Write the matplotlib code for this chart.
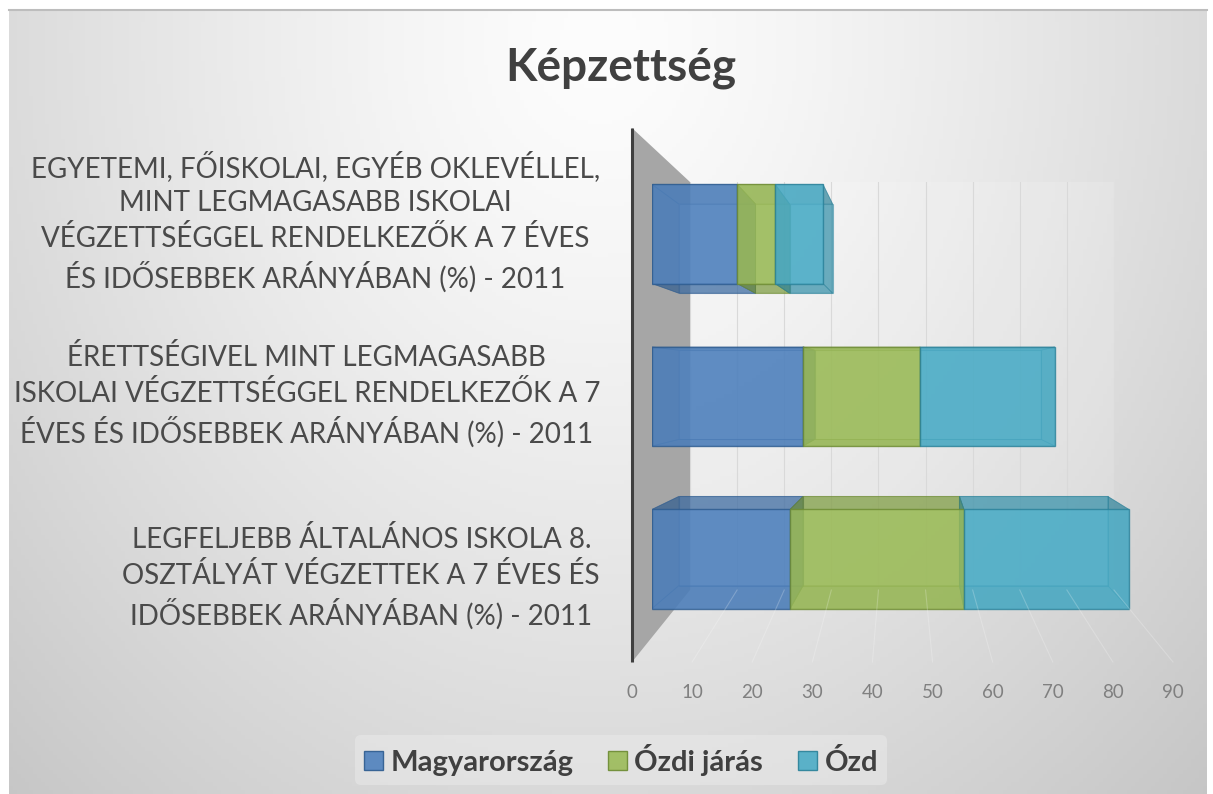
import matplotlib
matplotlib.use("Agg")
import matplotlib.pyplot as plt
import numpy as np
from matplotlib.patches import Polygon, Patch
from matplotlib.lines import Line2D

plt.rcParams["font.family"] = ["Lato", "DejaVu Sans"]

# data (bottom category first)
categories = [
    "LEGFELJEBB ÁLTALÁNOS ISKOLA 8.\nOSZTÁLYÁT VÉGZETTEK A 7 ÉVES ÉS\nIDŐSEBBEK ARÁNYÁBAN (%) - 2011",
    "ÉRETTSÉGIVEL MINT LEGMAGASABB\nISKOLAI VÉGZETTSÉGGEL RENDELKEZŐK A 7\nÉVES ÉS IDŐSEBBEK ARÁNYÁBAN (%) - 2011",
    "EGYETEMI, FŐISKOLAI, EGYÉB OKLEVÉLLEL,\nMINT LEGMAGASABB ISKOLAI\nVÉGZETTSÉGGEL RENDELKEZŐK A 7 ÉVES\nÉS IDŐSEBBEK ARÁNYÁBAN (%) - 2011",
]
series_names = ["Magyarország", "Ózdi járás", "Ózd"]
magyarorszag = [24.8, 27.1, 15.3]
ozdi_jaras = [31.2, 21.0, 6.8]
ozd = [29.6, 24.2, 8.6]
x_ticks = [0, 10, 20, 30, 40, 50, 60, 70, 80, 90]

# layout (pixels)
W, H = 1213, 794
face_colors = ["#4f81bd", "#9bbb59", "#4bacc6"]
dark_colors = ["#2d5b8f", "#6c8a32", "#2a8199"]
text_col = "#404040"
bar_h = 0.61
vp = np.array([48.0, 1.10])  # perspective point, bar data coords
depth = 0.9


def fx(x):
    return x / W


def fy(y):
    return 1 - y / H


fig = plt.figure(figsize=(W / 100, H / 100), dpi=100)
fig.patch.set_facecolor("white")

# background gradient
bg = fig.add_axes([0, 0, 1, 1])
bg.set_xlim(0, W)
bg.set_ylim(H, 0)
bg.axis("off")
gx, gy = np.meshgrid(np.linspace(9, 1207, 300), np.linspace(10, 794, 200))
r = np.sqrt(((gx - 600) / 680) ** 2 + ((gy - 40) / 820) ** 2)
v = np.clip((253 - 40 * r ** 1.3) / 255, 0, 1)
bg.imshow(np.dstack([v, v, v]), extent=(9, 1207, 794, 10), aspect="auto", zorder=0)
bg.plot([9, 1207], [10, 10], color="#bdbdbd", lw=1.5, zorder=1)

# back wall with gridlines
ax_back = fig.add_axes([fx(690), fy(590), 424 / W, 408 / H])
ax_back.set_xlim(0, 90)
ax_back.set_ylim(0, 1)
ax_back.set_xticks(x_ticks)
ax_back.set_yticks([])
ax_back.tick_params(axis="x", length=0, labelbottom=False)
ax_back.grid(axis="x", color="#d9d9d9", lw=0.8)
ax_back.patch.set_facecolor("white")
ax_back.patch.set_alpha(0.15)
for s in ax_back.spines.values():
    s.set_visible(False)

# tick label axis at the front floor edge
ax_tick = fig.add_axes([fx(632), fy(662), 541 / W, 0.0001])
ax_tick.set_xlim(0, 90)
ax_tick.set_xticks(x_ticks)
ax_tick.set_yticks([])
ax_tick.tick_params(axis="x", length=0, pad=16, labelsize=13.5, labelcolor="#808080")
ax_tick.patch.set_alpha(0)
for s in ax_tick.spines.values():
    s.set_visible(False)

# floor lines joining back wall gridlines to the front ticks
inv = fig.transFigure.inverted()
for t in x_ticks[1:]:
    p0 = inv.transform(ax_back.transData.transform((t, 0)))
    p1 = inv.transform(ax_tick.transData.transform((t, 0)))
    fig.add_artist(Line2D([p0[0], p1[0]], [p0[1], p1[1]], color="white", lw=0.8, alpha=0.22))

# side wall and axis line
bg.add_patch(Polygon([(632, 128), (690, 182), (690, 590), (632, 662)], closed=True,
                     facecolor="#a6a6a6", edgecolor="none", zorder=2))
bg.plot([632, 632], [128, 662], color="#3f3f3f", lw=2.2, zorder=3, solid_capstyle="butt")

# bars
ax = fig.add_axes([fx(652), fy(662), 548 / W, 534 / H])
ax.set_xlim(0, 548 / 5.57)
ax.set_ylim(-0.634, 2.652)
ax.axis("off")

y = np.arange(len(categories))
lefts = np.zeros(len(categories))
for j, vals in enumerate([magyarorszag, ozdi_jaras, ozd]):
    vals = np.array(vals)
    for i in range(len(categories)):
        x0, x1 = lefts[i], lefts[i] + vals[i]
        y0, y1 = y[i] - bar_h / 2, y[i] + bar_h / 2
        front = np.array([(x0, y0), (x1, y0), (x1, y1), (x0, y1)])
        back = vp + (front - vp) * depth
        ax.add_patch(Polygon(back, closed=True, facecolor=face_colors[j], alpha=0.5,
                             edgecolor=dark_colors[j], lw=0.8, zorder=1))
        for k in range(4):
            quad = [front[k], front[(k + 1) % 4], back[(k + 1) % 4], back[k]]
            ax.add_patch(Polygon(quad, closed=True, facecolor=dark_colors[j], alpha=0.45,
                                 edgecolor=dark_colors[j], lw=0.6, zorder=2))
    ax.barh(y, vals, left=lefts, height=bar_h, color=face_colors[j], alpha=0.8,
            edgecolor=dark_colors[j], linewidth=1.0, zorder=3)
    lefts += vals

# category labels
label_y = [578, 396, 222]
for lab, ly in zip(categories, label_y):
    fig.text(fx(600), fy(ly), lab, ha="right", va="center", ma="center",
             fontsize=20, color="#4a4a4a", linespacing=1.38)

fig.text(fx(621), fy(68), "Képzettség", ha="center", va="center",
         fontsize=33, fontweight="bold", color=text_col)

handles = [Patch(facecolor=face_colors[j], edgecolor=dark_colors[j], alpha=0.9, label=series_names[j])
           for j in range(3)]
leg = fig.legend(handles=handles, loc="center", bbox_to_anchor=(fx(621), fy(760)), ncol=3,
                 frameon=True, prop={"size": 21, "weight": "bold"}, handlelength=0.65,
                 handleheight=0.65, handletextpad=0.25, columnspacing=1.2, borderpad=0.3)
leg.get_frame().set_facecolor("#ebebeb")
leg.get_frame().set_alpha(0.5)
leg.get_frame().set_edgecolor("none")
for t in leg.get_texts():
    t.set_color(text_col)

fig.savefig("out.png", dpi=100, facecolor="white")
